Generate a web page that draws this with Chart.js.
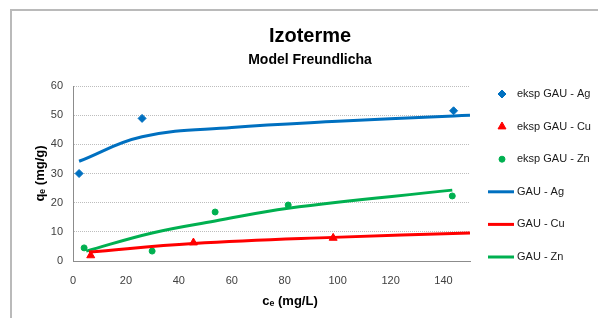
<!DOCTYPE html>
<html>
<head>
<meta charset="utf-8">
<script src="https://cdn.jsdelivr.net/npm/chart.js"></script>
<style>
  html, body { margin: 0; padding: 0; background: #fff; overflow: hidden; }
  #wrap { position: relative; width: 598px; height: 318px; overflow: hidden; }
  #frame { position: absolute; left: 10px; top: 9px; width: 700px; height: 400px;
           border: 2px solid #bababa; pointer-events: none; }
  canvas { position: absolute; left: 0; top: 0; }
</style>
</head>
<body>
<div id="wrap">
  <canvas id="chart" width="620" height="318"></canvas>
  <div id="frame"></div>
</div>
<script>
// podatki odčitani z grafa
const agExpX = [2.3, 26.1, 143.8];
const agExpY = [30.0, 48.9, 51.5];
const cuExpX = [6.7, 45.5, 98.3];
const cuExpY = [1.9, 6.3, 7.9];
const znExpX = [4.2, 29.9, 53.7, 81.3, 143.3];
const znExpY = [4.5, 3.4, 16.8, 19.2, 22.3];

const agFitX = [2.3, 26.1, 60, 100, 143.8, 150];
const agFitY = [34.2, 42.6, 45.8, 47.9, 49.7, 50.0];
const cuFitX = [6.0, 45.5, 98.3, 150];
const cuFitY = [3.1, 6.0, 8.1, 9.6];
const znFitX = [5.0, 29.9, 53.7, 81.3, 143.3];
const znFitY = [3.4, 9.6, 13.7, 18.1, 24.3];

const xTicks = [0, 20, 40, 60, 80, 100, 120, 140];
const yTicks = [0, 10, 20, 30, 40, 50, 60];

const BLUE = '#0070C0', RED = '#FF0000', GREEN = '#00B050';
const FONT = '"Liberation Sans", Arial, sans-serif';

const toPoints = (xs, ys) => xs.map((x, i) => ({ x: x, y: ys[i] }));

const expSet = (label, xs, ys, color, style, r) => ({
    type: 'scatter', label: label, data: toPoints(xs, ys),
    pointStyle: style, pointRadius: r, pointHoverRadius: r,
    backgroundColor: color, borderColor: color, borderWidth: 1,
    showLine: false, order: 1
});
const fitSet = (label, xs, ys, color) => ({
    type: 'line', label: label, data: toPoints(xs, ys),
    borderColor: color, backgroundColor: color, borderWidth: 3,
    pointRadius: 0, tension: 0.4, fill: false, order: 0
});

// legenda na desni strani + naslov osi x
const sideLegend = {
    id: 'sideLegend',
    afterDraw(chart) {
        const ctx = chart.ctx;
        const area = chart.chartArea;
        const iconX = area.right + 32;
        ctx.save();
        chart.data.datasets.forEach((ds, i) => {
            const y = 94 + i * 32.6;
            ctx.fillStyle = ds.backgroundColor;
            ctx.strokeStyle = ds.borderColor;
            if (ds.type === 'line') {
                ctx.lineWidth = 3;
                ctx.beginPath();
                ctx.moveTo(iconX - 14, y);
                ctx.lineTo(iconX + 12, y);
                ctx.stroke();
            } else {
                Chart.helpers.drawPoint(ctx, { pointStyle: ds.pointStyle, radius: ds.pointRadius, rotation: 0, borderWidth: 1 }, iconX, y);
            }
            ctx.fillStyle = '#1a1a1a';
            ctx.font = '11px ' + FONT;
            ctx.textAlign = 'left';
            ctx.textBaseline = 'middle';
            ctx.fillText(ds.label, iconX + 15, y);
        });
        ctx.fillStyle = '#000';
        ctx.font = 'bold 13px ' + FONT;
        ctx.textAlign = 'center';
        ctx.textBaseline = 'middle';
        ctx.fillText('cₑ (mg/L)', 290, 301);
        ctx.restore();
    }
};

new Chart(document.getElementById('chart'), {
    data: {
        datasets: [
            expSet('eksp GAU - Ag', agExpX, agExpY, BLUE, 'rectRot', 4),
            expSet('eksp GAU - Cu', cuExpX, cuExpY, RED, 'triangle', 4.6),
            expSet('eksp GAU - Zn', znExpX, znExpY, GREEN, 'circle', 3),
            fitSet('GAU - Ag', agFitX, agFitY, BLUE),
            fitSet('GAU - Cu', cuFitX, cuFitY, RED),
            fitSet('GAU - Zn', znFitX, znFitY, GREEN)
        ]
    },
    options: {
        responsive: false,
        animation: false,
        devicePixelRatio: 1,
        layout: { padding: { left: 0, right: 0, top: 0, bottom: 17.8 } },
        plugins: {
            legend: { display: false },
            tooltip: { enabled: false },
            title: {
                display: true, text: 'Izoterme', color: '#000',
                font: { family: FONT, size: 20, weight: 'bold' },
                padding: { top: 24, bottom: 0 }
            },
            subtitle: {
                display: true, text: 'Model Freundlicha', color: '#000',
                font: { family: FONT, size: 14, weight: 'bold' },
                padding: { top: 3.3, bottom: 17.9 }
            }
        },
        scales: {
            x: {
                type: 'linear', min: 0, max: 150,
                afterBuildTicks: (s) => { s.ticks = xTicks.map(v => ({ value: v })); },
                ticks: { color: '#404040', padding: 13, font: { family: FONT, size: 11 } },
                grid: { display: false, drawTicks: false },
                border: { display: true, color: '#8c8c8c', width: 1 }
            },
            y: {
                type: 'linear', min: 0, max: 60,
                afterBuildTicks: (s) => { s.ticks = yTicks.map(v => ({ value: v })); },
                afterFit: (s) => { s.width = 73; },
                ticks: { color: '#404040', padding: 10, font: { family: FONT, size: 11 } },
                grid: { color: '#bdbdbd', drawTicks: false },
                border: { display: true, color: '#8c8c8c', width: 1, dash: [1, 1] },
                title: {
                    display: true, text: 'qₑ (mg/g)', color: '#000',
                    font: { family: FONT, size: 13, weight: 'bold' },
                    padding: { top: 32.2, bottom: 0 }
                }
            },
            legendSpace: {
                type: 'linear', position: 'right', display: true,
                ticks: { display: false }, grid: { display: false }, border: { display: false },
                afterFit: (s) => { s.width = 150; }
            }
        }
    },
    plugins: [sideLegend]
});
</script>
</body>
</html>
